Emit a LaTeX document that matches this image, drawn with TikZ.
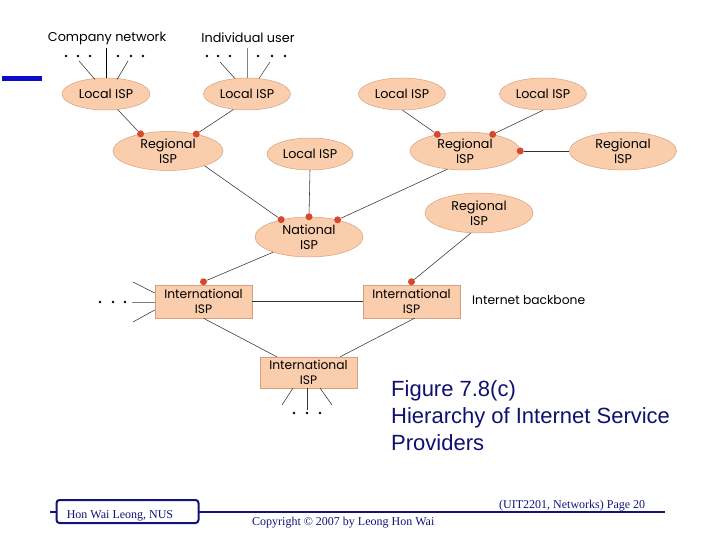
\documentclass[tikz,border=0pt]{standalone}
\usepackage{fontspec}
\setmainfont{Liberation Serif}
\newfontfamily\diagfont{Poppins}
\newfontfamily\capfont{Liberation Sans}
\usetikzlibrary{shapes.geometric}
\definecolor{peach}{RGB}{250,206,172}
\definecolor{peachedge}{RGB}{214,160,124}
\definecolor{dotred}{RGB}{214,72,46}
\definecolor{navy}{RGB}{20,20,120}
\definecolor{barblue}{RGB}{12,12,200}
\definecolor{capblue}{RGB}{16,16,112}
\definecolor{linegray}{RGB}{50,50,50}
\tikzset{
  isp/.style={ellipse, draw=peachedge, fill=peach, line width=0.5pt, inner sep=0pt,
    align=center, font=\diagfont\fontsize{12.7}{15}\selectfont},
  intl/.style={rectangle, draw=peachedge, fill=peach, line width=0.5pt, inner sep=0pt,
    minimum width=97pt, align=center, font=\diagfont\fontsize{12.3}{14.5}\selectfont},
  rdot/.style={circle, fill=dotred, inner sep=0pt, minimum size=7pt},
  bdot/.style={circle, fill=black, inner sep=0pt, minimum size=2.6pt},
  conn/.style={draw=linegray, line width=0.55pt},
  lbl/.style={font=\diagfont\fontsize{12.8}{15}\selectfont, inner sep=0pt},
  foot/.style={font=\fontsize{12}{14}\selectfont, text=navy, inner sep=0pt},
}
\begin{document}
\begin{tikzpicture}[x=1pt,y=-1pt]
\useasboundingbox (0,0) rectangle (720,540);
% blue bar
\fill[barblue] (2,76) rectangle (42,81);

% labels
\node[lbl] (cn) at (107,38) {Company network};
\node[lbl] (iu) at (248,38) {Individual user};

% local ISPs
\node[isp, minimum width=88pt, minimum height=32pt] (L1) at (106,94) {Local ISP};
\node[isp, minimum width=87pt, minimum height=32pt] (L2) at (247,94) {Local ISP};
\node[isp, minimum width=87pt, minimum height=32pt] (L3) at (402,94) {Local ISP};
\node[isp, minimum width=87pt, minimum height=32pt] (L4) at (543,94) {Local ISP};
% regional
\node[isp, minimum width=110pt, minimum height=39pt] (R1) at (168,151) {Regional\\ISP};
\node[isp, minimum width=86pt, minimum height=32pt] (LM) at (310,154) {Local ISP};
\node[isp, minimum width=110pt, minimum height=38pt] (R2) at (465,151) {Regional\\ISP};
\node[isp, minimum width=107pt, minimum height=38pt] (R3) at (623,151) {Regional\\ISP};
\node[isp, minimum width=108pt, minimum height=40pt] (N) at (309,237) {National\\ISP};
\node[isp, minimum width=108pt, minimum height=40pt] (R4) at (479,213) {Regional\\ISP};
% international
\node[intl, minimum height=33pt] (I1) at (203.5,301.5) {International\\ISP};
\node[intl, minimum height=33pt] (I2) at (411.5,301.5) {International\\ISP};
\node[intl, minimum height=31pt] (I3) at (308.5,372.5) {International\\ISP};
\node[lbl, anchor=west, font=\diagfont\fontsize{12.3}{14}\selectfont] (ib) at (472,300) {Internet backbone};

% top access dots and lines
\foreach \x [count=\i] in {66,78,90,118,131,143} \node[bdot] (c\i) at (\x,56) {};
\foreach \x [count=\i] in {207,218,230,258,272,285} \node[bdot] (u\i) at (\x,56) {};
\coordinate (ca) at (106,48); \coordinate (cb) at (79,61); \coordinate (cc) at (128,61);
\coordinate (ua) at (247,48); \coordinate (ub) at (220,62); \coordinate (uc) at (270,62);
\draw[black, line width=0.9pt] (ca) -- (ca |- L1.north);
\draw[conn] (cb) -- (95,79.5);
\draw[conn] (cc) -- (117,79.5);
\draw[draw=gray, line width=0.6pt] (ua) -- (ua |- L2.north);
\draw[conn] (ub) -- (235,78.5);
\draw[conn] (uc) -- (259,78.5);

% red dots
\node[rdot] (r1a) at (R1.148) {};
\node[rdot] (r1b) at (R1.31) {};
\node[rdot] (r2a) at (R2.149) {};
\node[rdot] (r2b) at (R2.31) {};
\node[rdot] (r2c) at (R2.0) {};
\node[rdot] (na) at (N.148) {};
\node[rdot] (nb) at (N.90) {};
\node[rdot] (nc) at (N.31) {};
\node[rdot] (i1d) at ([yshift=3pt]I1.north) {};
\node[rdot] (i2d) at ([yshift=3pt]I2.north) {};

% connectors
\draw[conn] (L1.-53) -- (r1a);
\draw[conn] (L2.229) -- (r1b);
\draw[conn] (L3.-88) -- (r2a);
\draw[conn] (L4.-90) -- (r2b);
\draw[conn] (R3.180) -- (r2c);
\draw[conn] (R1.-22) -- (na);
\draw[conn] (LM.south) -- (nb);
\draw[conn] (R2.226) -- (nc);
\draw[conn] (N.203) -- (i1d);
\draw[conn] (R4.248) -- (i2d);
\draw[conn] (I1.east) -- (I2.west);
\draw[conn] (I1.south) -- ([xshift=17pt]I3.north west);
\draw[conn] ([xshift=3pt]I2.south) -- ([xshift=-17pt]I3.north east);

% left of I1
\foreach \x [count=\i] in {100,113,125} \node[bdot] (ld\i) at (\x,302) {};
\coordinate (la) at (133,282); \coordinate (lb) at (132,302); \coordinate (lc) at (133,322);
\draw[conn] (la) -- ([yshift=8.5pt]I1.west);
\draw[draw=gray, line width=0.5pt] (lb) -- ([yshift=-0.5pt]I1.west);
\draw[conn] (lc) -- ([yshift=-8.5pt]I1.west);

% below I3
\foreach \x [count=\i] in {294,307,320} \node[bdot] (bd\i) at (\x,413) {};
\coordinate (ba) at (282,405); \coordinate (bb) at (307,410); \coordinate (bc) at (332,405);
\draw[conn] (ba) -- (293,388);
\draw[conn] (bb) -- (bb |- I3.south);
\draw[conn] (bc) -- (320,388);

% caption
\node[anchor=base west, inner sep=0pt, text=capblue, font=\capfont\fontsize{22}{27}\selectfont, align=left] (cap) at (391,450)
  {Figure 7.8(c)\\Hierarchy of Internet Service\\Providers};

% footer
\draw[navy, line width=2pt] (50,512) -- (665,512);
\node[draw=navy, line width=2pt, fill=white, rounded corners=3pt, minimum width=142pt, minimum height=23pt, inner sep=0pt] (fb) at (127.5,511.5) {};
\node[foot, anchor=base] (fn) at (120,518) {Hon Wai Leong, NUS};
\node[foot, anchor=base west] (fc) at (252,525) {Copyright \textcopyright{} 2007 by Leong Hon Wai};
\node[foot, anchor=base west] (fp) at (499,508) {(UIT2201, Networks) Page 20};
\end{tikzpicture}
\end{document}
